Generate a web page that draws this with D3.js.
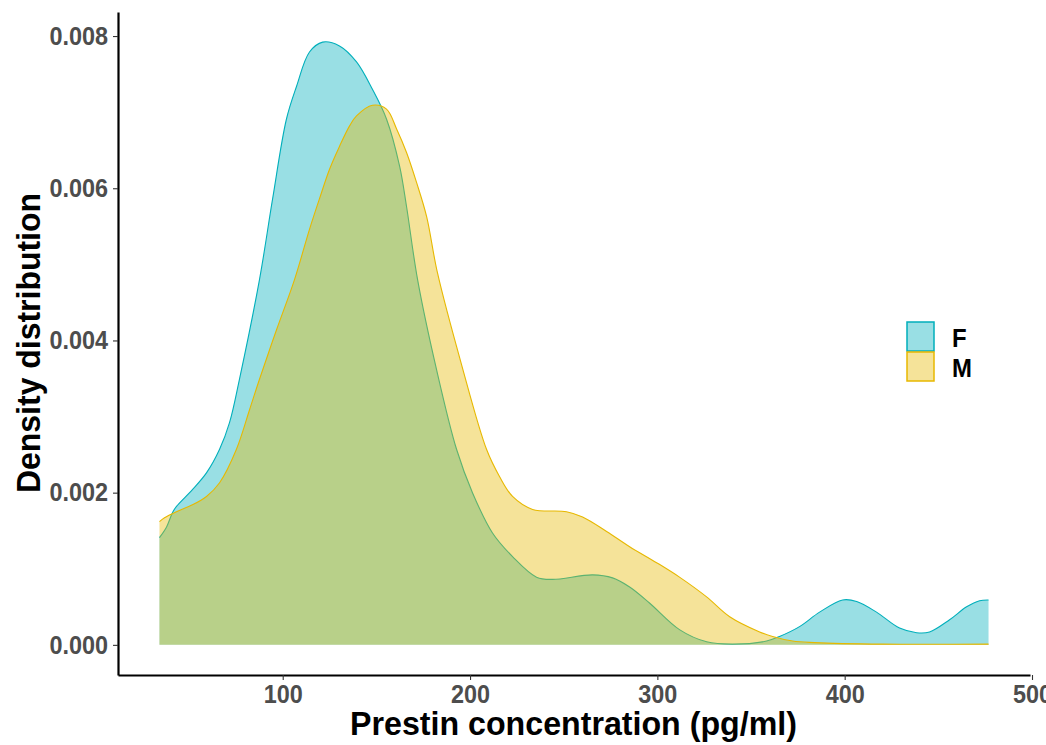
<!DOCTYPE html>
<html>
<head>
<meta charset="utf-8">
<script src="https://cdn.jsdelivr.net/npm/d3@7"></script>
<style>
  html, body { margin: 0; padding: 0; background: #fff; }
  svg text { font-family: "Liberation Sans", Arial, sans-serif; font-weight: bold; }
</style>
</head>
<body>
<svg id="chart" width="1046" height="745"></svg>
<script>
// Kernel density estimates of prestin concentration, by sex
const groups = ["F", "M"];
const fillColors = ["#00AFBB", "#E7B800"];

const femaleX = [34.2, 38.0, 41.2, 43.3, 51.8, 59.3, 66.3, 71.6, 76.9, 87.6, 94.6, 102.0, 107.4, 114.3, 121.3,
  130.3, 139.4, 147.9, 155.4, 162.4, 166.1, 172.0, 182.1, 192.8, 201.3, 212.0, 222.7, 235.5, 244.0, 265.4,
  276.1, 285.2, 295.8, 311.8, 326.3, 340.1, 358.3, 365.2, 375.9, 386.6, 398.9, 406.4, 417.0, 429.3, 438.4,
  445.3, 456.0, 465.1, 472.0, 476.8];
const femaleDensity = [0.00141, 0.00155, 0.00174, 0.00182, 0.00204, 0.00226, 0.00257, 0.00292, 0.00349, 0.00480,
  0.00586, 0.00691, 0.00734, 0.00779, 0.00792, 0.00787, 0.00766, 0.00730, 0.00691, 0.00629, 0.00576, 0.00480,
  0.00362, 0.00257, 0.00200, 0.00147, 0.00116, 0.00089, 0.00086, 0.00092, 0.00088, 0.00076, 0.00055, 0.00020,
  0.00004, 0.00001, 0.00005, 0.00011, 0.00024, 0.00043, 0.00059, 0.00057, 0.00043, 0.00022, 0.00016, 0.00017,
  0.00033, 0.00050, 0.00058, 0.00059];

const maleX = [34.2, 36.9, 43.3, 51.8, 59.3, 66.3, 75.3, 82.3, 87.6, 96.7, 106.3, 114.3, 119.6, 125.0, 130.3,
  135.7, 139.4, 147.9, 155.4, 160.8, 166.1, 171.4, 176.8, 182.6, 195.5, 208.8, 215.8, 222.7, 233.4, 251.5,
  260.1, 272.9, 285.2, 299.6, 311.8, 326.3, 338.6, 354.6, 361.5, 372.2, 383.9, 420.0, 476.8];
const maleDensity = [0.00162, 0.00167, 0.00175, 0.00184, 0.00195, 0.00213, 0.00257, 0.00309, 0.00349, 0.00414,
  0.00480, 0.00546, 0.00586, 0.00625, 0.00655, 0.00682, 0.00695, 0.00709, 0.00704, 0.00678, 0.00647, 0.00608,
  0.00563, 0.00489, 0.00368, 0.00257, 0.00221, 0.00195, 0.00178, 0.00175, 0.00168, 0.00149, 0.00129, 0.00108,
  0.00089, 0.00063, 0.00037, 0.00017, 0.00011, 0.00005, 0.00003, 0.00001, 0.00001];

const xTicks = [100, 200, 300, 400, 500];
const yTicks = [0, 0.002, 0.004, 0.006, 0.008];
const xTitle = "Prestin concentration (pg/ml)";
const yTitle = "Density distribution";

const series = [
  { name: groups[0], color: fillColors[0], pts: femaleX.map((x, i) => ({ x, y: femaleDensity[i] })) },
  { name: groups[1], color: fillColors[1], pts: maleX.map((x, i) => ({ x, y: maleDensity[i] })) }
];

const svg = d3.select("#chart");
const panel = { left: 118, right: 1030, top: 12, bottom: 675 };

// 5% expansion of the data range on both axes
const allX = femaleX.concat(maleX);
const xMin = d3.min(allX), xMax = d3.max(allX);
const xPad = (xMax - xMin) * 0.05;
const yMax = d3.max(femaleDensity.concat(maleDensity));
const yPad = yMax * 0.05;

const x = d3.scaleLinear().domain([xMin - xPad, xMax + xPad]).range([panel.left, panel.right]);
const y = d3.scaleLinear().domain([-yPad, yMax + yPad]).range([panel.bottom, panel.top]);

const curve = d3.curveCatmullRom.alpha(0.5);
const area = d3.area().x(d => x(d.x)).y0(y(0)).y1(d => y(Math.max(0, d.y))).curve(curve);
const line = d3.line().x(d => x(d.x)).y(d => y(d.y)).curve(curve);

series.forEach(s => {
  const g = svg.append("g");
  g.append("path").datum(s.pts).attr("d", area)
    .attr("fill", s.color).attr("fill-opacity", 0.4).attr("stroke", "none");
  g.append("path").datum(s.pts).attr("d", line)
    .attr("fill", "none").attr("stroke", s.color).attr("stroke-width", 1.1);
});

// Narrow the bold glyphs slightly to keep the compact label widths
function condense(sel, k) {
  sel.each(function () {
    const w = this.getComputedTextLength();
    d3.select(this).attr("textLength", w * k).attr("lengthAdjust", "spacingAndGlyphs");
  });
}

// Axes
const xAxis = svg.append("g").attr("transform", `translate(0,${panel.bottom})`)
  .call(d3.axisBottom(x).tickValues(xTicks).tickSize(5).tickPadding(5).tickSizeOuter(0));
const yAxis = svg.append("g").attr("transform", `translate(${panel.left},0)`)
  .call(d3.axisLeft(y).tickValues(yTicks).tickFormat(d3.format(".3f")).tickSize(5).tickPadding(5).tickSizeOuter(0));

[xAxis, yAxis].forEach(a => {
  a.select(".domain").attr("stroke", "#000").attr("stroke-width", 2.2);
  a.selectAll(".tick line").attr("stroke", "#333").attr("stroke-width", 1.1);
  a.selectAll(".tick text").attr("fill", "#4D4D4D").style("font-size", "26px")
    .style("font-family", "'Liberation Sans', Arial, sans-serif").style("font-weight", "bold")
    .call(condense, 0.9);
});

svg.append("text").attr("x", 573.5).attr("y", 735)
  .attr("text-anchor", "middle").attr("fill", "#000").style("font-size", "34px").text(xTitle)
  .call(condense, 0.946);

svg.append("text").attr("transform", `translate(40,343) rotate(-90)`)
  .attr("text-anchor", "middle").attr("fill", "#000").style("font-size", "34px").text(yTitle)
  .call(condense, 0.94);

// Legend
const legend = svg.append("g").attr("transform", "translate(907,322)");
series.forEach((s, i) => {
  const row = legend.append("g").attr("transform", `translate(0,${i * 30})`);
  row.append("rect").attr("x", 0).attr("y", 0).attr("width", 27).attr("height", 29)
    .attr("fill", s.color).attr("fill-opacity", 0.4).attr("stroke", s.color).attr("stroke-width", 1.5);
  row.append("text").attr("x", 45).attr("y", 25)
    .attr("fill", "#000").style("font-size", "26px").text(s.name)
    .call(condense, 0.92);
});
</script>
</body>
</html>
